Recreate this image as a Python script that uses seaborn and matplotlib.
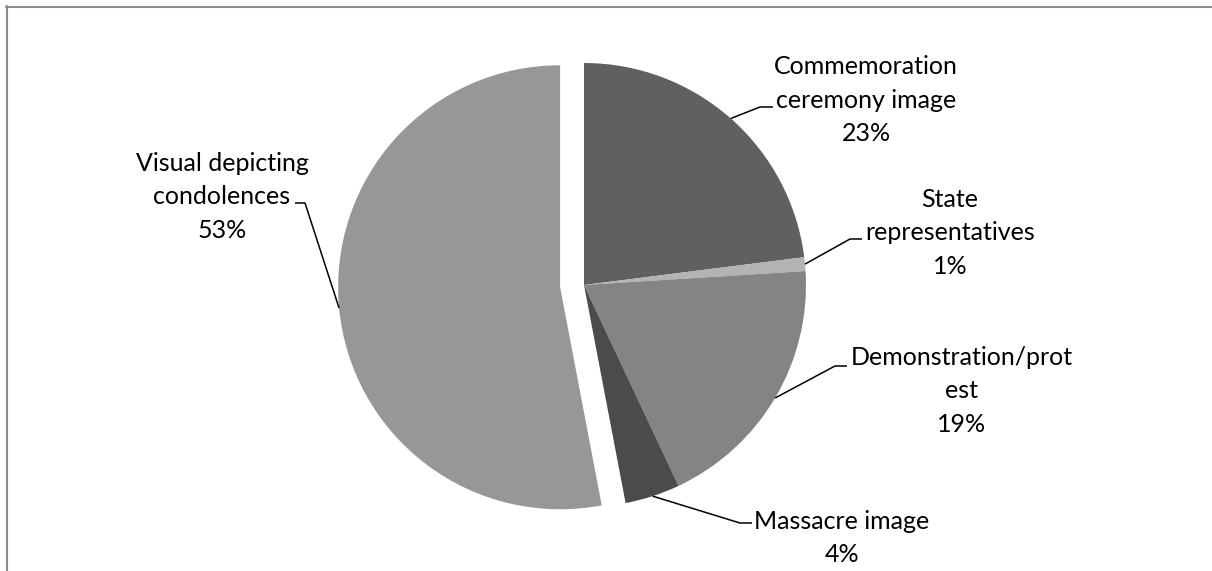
import matplotlib
matplotlib.use("Agg")
import matplotlib.pyplot as plt
from matplotlib.lines import Line2D
import seaborn as sns
import numpy as np

# Share of images by subject (%)
categories = [
    "Commemoration\nceremony image",
    "State\nrepresentatives",
    "Demonstration/prot\nest",
    "Massacre image",
    "Visual depicting\ncondolences",
]
shares = [23, 1, 19, 4, 53]
slice_colors = ["#606060", "#b3b3b3", "#848484", "#4b4b4b", "#979797"]
explode = [0, 0, 0, 0, 0.108]  # fraction of the radius

W, H = 1212, 571
RADIUS = 222

# Label layout in pixel units (x right, y down): text centre, leader elbow, stub end
label_xy = [(866, 100), (950, 233), (962, 391), (842, 538), (222, 197)]
leader_elbow = [(760, 107), (850, 239), (835, 366), (740, 523), (305, 203)]
leader_end = [(773, 107), (862, 239), (847, 366), (752, 523), (295, 203)]

sns.set_theme(style="white")
plt.rcParams["font.family"] = ["Lato", "DejaVu Sans"]

fig = plt.figure(figsize=(W / 100, H / 100), dpi=100)
ax = fig.add_axes([0, 0, 1, 1])

wedges, _ = ax.pie(
    shares,
    colors=sns.color_palette(slice_colors),
    explode=[e * RADIUS for e in explode],
    startangle=90,
    counterclock=False,
    center=(584, H - 285),
    radius=RADIUS,
    wedgeprops=dict(linewidth=0),
)

ax.set_xlim(0, W)
ax.set_ylim(0, H)
ax.set_aspect("equal")
ax.axis("off")


def flip(p):
    return p[0], H - p[1]


for w, name, val, txy, el, en in zip(wedges, categories, shares,
                                      label_xy, leader_elbow, leader_end):
    mid = np.deg2rad((w.theta1 + w.theta2) / 2)
    cx, cy = w.center
    anchor = (cx + w.r * np.cos(mid), cy + w.r * np.sin(mid))
    ex, ey = flip(el)
    sx, sy = flip(en)
    ax.plot([anchor[0], ex, sx], [anchor[1], ey, sy], color="black",
            linewidth=1.1, solid_capstyle="butt")
    tx, ty = flip(txy)
    ax.text(tx, ty, f"{name}\n{val}%", ha="center", va="center",
            multialignment="center", fontsize=18, linespacing=1.55,
            color="black")

# Chart frame (left and top edges)
border = "#8a8a8a"
fig.add_artist(Line2D([7 / W, 7 / W], [0, 1 - 6 / H], transform=fig.transFigure,
                      color=border, linewidth=1.5))
fig.add_artist(Line2D([6 / W, 1], [1 - 7 / H, 1 - 7 / H], transform=fig.transFigure,
                      color=border, linewidth=1.5))

fig.savefig("out.png", dpi=100)
